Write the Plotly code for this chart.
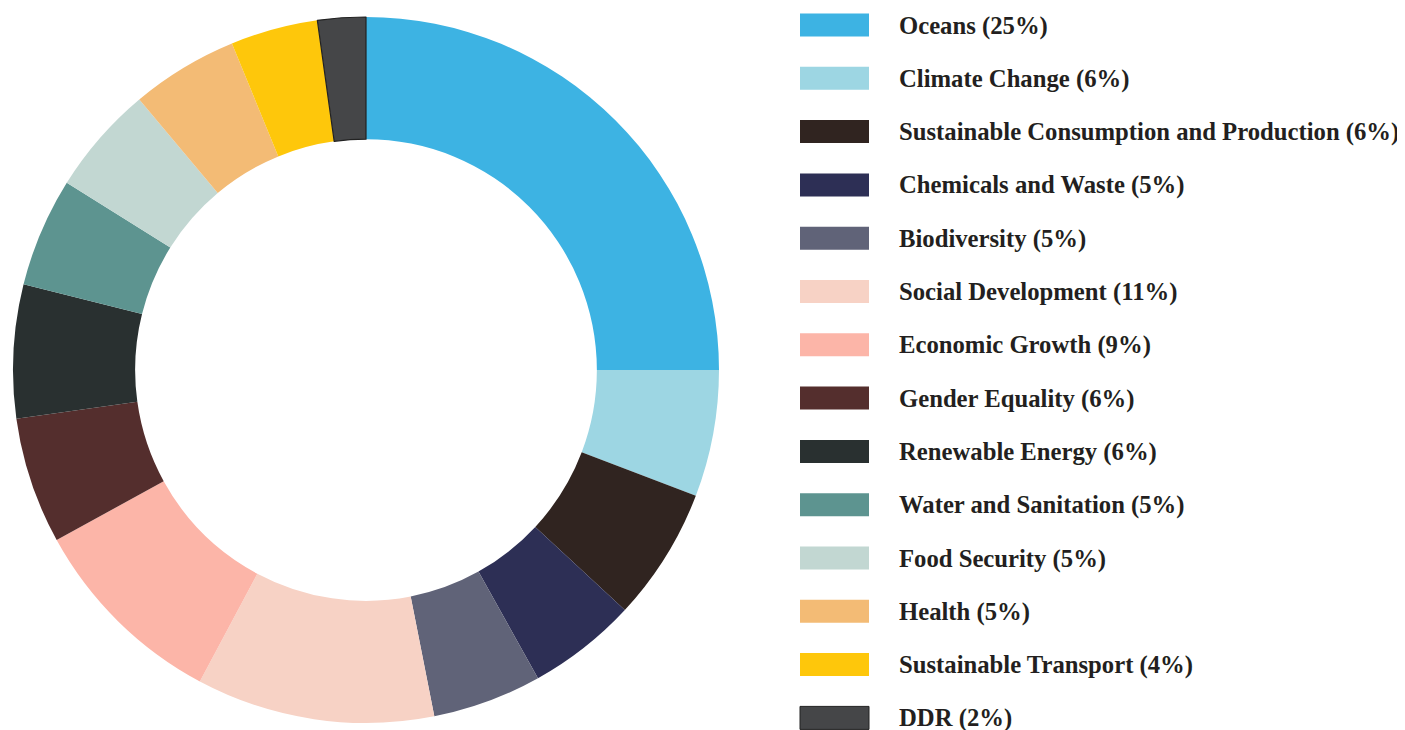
import plotly.graph_objects as go

labels = ["Oceans (25%)", "Climate Change (6%)", "Sustainable Consumption and Production (6%)",
          "Chemicals and Waste (5%)", "Biodiversity (5%)", "Social Development (11%)",
          "Economic Growth (9%)", "Gender Equality (6%)", "Renewable Energy (6%)",
          "Water and Sanitation (5%)", "Food Security (5%)", "Health (5%)",
          "Sustainable Transport (4%)", "DDR (2%)"]
values = [25.0, 5.8, 6.1, 5.0, 5.0, 10.9, 9.2, 5.8, 6.1, 5.0, 5.0, 4.9, 4.0, 2.2]
colors = ["#3db3e3", "#9dd6e3", "#302420", "#2d2f55", "#606378", "#f7d2c5",
          "#fcb5a8", "#542e2d", "#293030", "#5d9490", "#c2d7d2", "#f3bb75",
          "#fec70b", "#454648"]
outline = ["#454648"] * 13 + ["#222222"]
outline_w = [0] * 13 + [1.2]

# page has an 8px body margin; work in screen pixels and shift
OFF = 8
W, H = 1405 - OFF, 730 - OFF


def px(x):
    return (x - OFF) / W


def py(y):
    return 1 - (y - OFF) / H


cx, cy, r = 366, 370, 353

fig = go.Figure(go.Pie(
    labels=labels, values=values, sort=False, direction="clockwise", rotation=0,
    hole=0.654, textinfo="none", hoverinfo="label",
    marker=dict(colors=colors, line=dict(color=outline, width=outline_w)),
    domain=dict(x=[px(cx - r), px(cx + r)], y=[py(cy + r), py(cy - r)]),
    showlegend=False,
))

shapes, annotations = [], []
y0, step = 25, 53.3
n = len(labels)
for i, (lab, col) in enumerate(zip(labels, colors)):
    yc = y0 + i * step
    last = i == n - 1
    shapes.append(dict(type="rect", xref="paper", yref="paper",
                       x0=px(800), x1=px(869), y0=py(yc + 11.5), y1=py(yc - 11.5),
                       fillcolor=col,
                       line=dict(color="#222222" if last else col, width=1 if last else 0)))
    annotations.append(dict(x=px(897), y=py(yc + 0.5), xref="paper", yref="paper",
                            xanchor="left", yanchor="middle", showarrow=False, text=lab,
                            font=dict(family="Liberation Serif", size=24.7, color="#231f20",
                                      weight="bold")))

fig.update_layout(width=W, height=H, margin=dict(l=0, r=0, t=0, b=0),
                  paper_bgcolor="white", plot_bgcolor="white",
                  shapes=shapes, annotations=annotations)
fig.write_html("out.html")
